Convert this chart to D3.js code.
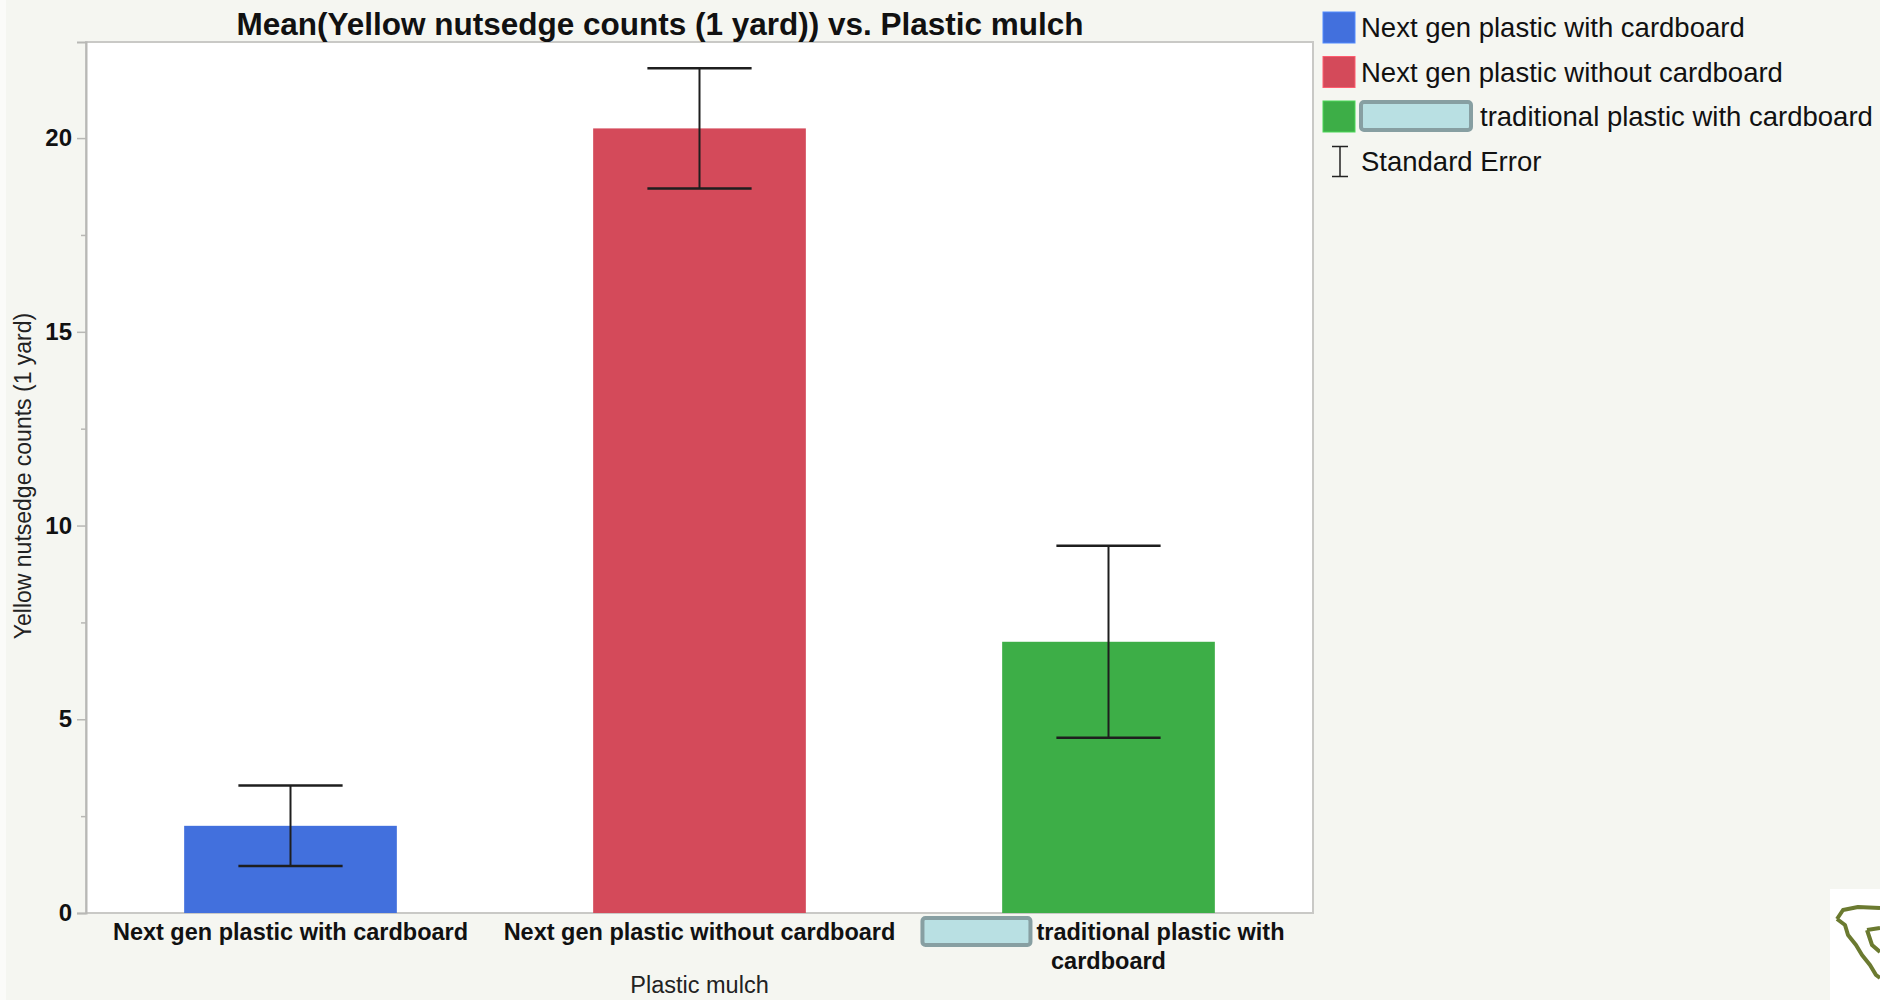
<!DOCTYPE html>
<html>
<head>
<meta charset="utf-8">
<script src="https://cdn.jsdelivr.net/npm/d3@7"></script>
<style>
  html, body { margin: 0; padding: 0; background: #f5f6f1; }
  svg { display: block; font-family: "Liberation Sans", Arial, Helvetica, sans-serif; }
</style>
</head>
<body>
<svg id="chart" width="1880" height="1000"></svg>
<script>
// ---- data ----
const categories = ["Next gen plastic with cardboard", "Next gen plastic without cardboard", "traditional plastic with cardboard"];
const categoryLines = [["Next gen plastic with cardboard"], ["Next gen plastic without cardboard"], ["traditional plastic with", "cardboard"]];
const redacted = [false, false, true];
const means = [2.25, 20.25, 7.0];
const stdErrors = [1.04, 1.55, 2.48];
const barColors = ["#4270dd", "#d44a5a", "#3dae47"];
const yMajorTicks = [0, 5, 10, 15, 20];
const yMinorTicks = [2.5, 7.5, 12.5, 17.5];
const yMax = 22.48;
const titleText = "Mean(Yellow nutsedge counts (1 yard)) vs. Plastic mulch";
const yLabel = "Yellow nutsedge counts (1 yard)";
const xLabel = "Plastic mulch";
const seLabel = "Standard Error";

// ---- layout ----
const W = 1880, H = 1000;
const plot = { left: 86, right: 1313, top: 42, bottom: 913 };
const svg = d3.select("#chart");

svg.append("rect").attr("width", W).attr("height", H).attr("fill", "#f5f6f1");
svg.append("rect").attr("x", 0).attr("y", 0).attr("width", 6).attr("height", H).attr("fill", "#fbfbf9");

const x = d3.scaleBand().domain(categories).range([plot.left, plot.right]).paddingInner(0.48).paddingOuter(0.24);
const y = d3.scaleLinear().domain([0, yMax]).range([plot.bottom, plot.top]);

// plot background
svg.append("rect").attr("x", plot.left).attr("y", plot.top)
  .attr("width", plot.right - plot.left).attr("height", plot.bottom - plot.top)
  .attr("fill", "#ffffff").attr("stroke", "#c9c9c6").attr("stroke-width", 2);

// bars
svg.append("g").selectAll("rect").data(categories).join("rect")
  .attr("x", d => x(d)).attr("width", x.bandwidth())
  .attr("y", (d, i) => y(means[i])).attr("height", (d, i) => y(0) - y(means[i]))
  .attr("fill", (d, i) => barColors[i]);

// error bars
const capW = x.bandwidth() * 0.49;
const eg = svg.append("g").attr("stroke", "#1e1e1e");
categories.forEach((c, i) => {
  const cx = x(c) + x.bandwidth() / 2;
  const hi = y(means[i] + stdErrors[i]), lo = y(means[i] - stdErrors[i]);
  eg.append("line").attr("x1", cx).attr("x2", cx).attr("y1", hi).attr("y2", lo).attr("stroke-width", 2);
  eg.append("line").attr("x1", cx - capW / 2).attr("x2", cx + capW / 2).attr("y1", hi).attr("y2", hi).attr("stroke-width", 2.5);
  eg.append("line").attr("x1", cx - capW / 2).attr("x2", cx + capW / 2).attr("y1", lo).attr("y2", lo).attr("stroke-width", 2.5);
});

// y axis
const yAxis = svg.append("g").attr("transform", `translate(${plot.left},0)`)
  .call(d3.axisLeft(y).tickValues(yMajorTicks).tickSize(9).tickPadding(5));
yAxis.select(".domain").attr("stroke", "#b8b8b5").attr("stroke-width", 2);
yAxis.selectAll(".tick line").attr("stroke", "#b8b8b5").attr("stroke-width", 1.5);
yAxis.selectAll(".tick text").attr("font-size", 24).attr("font-weight", "bold").attr("fill", "#111")
  .attr("font-family", "Liberation Sans, Arial, sans-serif");
const yMinor = svg.append("g").attr("transform", `translate(${plot.left},0)`)
  .call(d3.axisLeft(y).tickValues(yMinorTicks).tickSize(5).tickFormat(""));
yMinor.select(".domain").remove();
yMinor.selectAll(".tick line").attr("stroke", "#b8b8b5").attr("stroke-width", 1.5);

// x tick labels
const xl = svg.append("g");
categories.forEach((c, i) => {
  const cx = x(c) + x.bandwidth() / 2;
  const lines = categoryLines[i];
  lines.forEach((ln, j) => {
    const t = xl.append("text").text(ln)
      .attr("font-size", 23.5).attr("font-weight", "bold").attr("fill", "#111")
      .attr("y", 940 + j * 29);
    if (redacted[i] && j === 0) {
      const tw = t.node().getComputedTextLength();
      const boxW = 108, gap = 6;
      const total = boxW + gap + tw;
      const startX = cx - total / 2 - 5;
      xl.append("rect").attr("x", startX).attr("y", 918).attr("width", boxW).attr("height", 27)
        .attr("rx", 3).attr("fill", "#b9e0e3").attr("stroke", "#879fa2").attr("stroke-width", 4);
      t.attr("x", startX + boxW + gap).attr("text-anchor", "start");
    } else {
      t.attr("x", cx).attr("text-anchor", "middle");
    }
  });
});

// axis titles
svg.append("text").text(xLabel).attr("x", (plot.left + plot.right) / 2).attr("y", 993)
  .attr("text-anchor", "middle").attr("font-size", 23.5).attr("fill", "#222");
svg.append("text").text(yLabel)
  .attr("transform", `translate(31,476) rotate(-90)`)
  .attr("text-anchor", "middle").attr("font-size", 23).attr("fill", "#222");

// title
svg.append("text").text(titleText).attr("x", 660).attr("y", 35)
  .attr("text-anchor", "middle").attr("font-size", 31.5).attr("font-weight", "bold").attr("fill", "#111");

// legend
const lg = svg.append("g");
const lx = 1323, ly0 = 12, lstep = 44.5, sw = 32, sh = 31;
categories.forEach((c, i) => {
  const yy = ly0 + i * lstep;
  lg.append("rect").attr("x", lx).attr("y", yy).attr("width", sw).attr("height", sh)
    .attr("fill", barColors[i]).attr("stroke", d3.color(barColors[i]).brighter(0.6)).attr("stroke-width", 1);
  let tx = lx + sw + 6;
  if (redacted[i]) {
    lg.append("rect").attr("x", tx).attr("y", yy + 1).attr("width", 110).attr("height", 28)
      .attr("rx", 3).attr("fill", "#b9e0e3").attr("stroke", "#879fa2").attr("stroke-width", 4);
    tx += 119;
  }
  lg.append("text").text(c).attr("x", tx).attr("y", yy + sh / 2 + 9.5)
    .attr("font-size", 27.5).attr("fill", "#111");
});
// SE legend item
const seY = ly0 + 3 * lstep;
const seX = lx + 17;
lg.append("line").attr("x1", seX).attr("x2", seX).attr("y1", seY + 1).attr("y2", seY + 31).attr("stroke", "#222").attr("stroke-width", 1.5);
lg.append("line").attr("x1", seX - 8).attr("x2", seX + 8).attr("y1", seY + 1).attr("y2", seY + 1).attr("stroke", "#222").attr("stroke-width", 1.5);
lg.append("line").attr("x1", seX - 8).attr("x2", seX + 8).attr("y1", seY + 31).attr("y2", seY + 31).attr("stroke", "#222").attr("stroke-width", 1.5);
lg.append("text").text(seLabel).attr("x", lx + sw + 6).attr("y", seY + sh / 2 + 9.5)
  .attr("font-size", 27.5).attr("fill", "#111");

// corner logo (decoration)
svg.append("rect").attr("x", 1830).attr("y", 889).attr("width", 50).attr("height", 111).attr("fill", "#ffffff");
svg.append("path")
  .attr("d", "M1837,919 L1843,910 L1858,907 L1880,908 M1837,919 L1845,925 L1848,935 L1856,945 L1862,955 L1870,965 L1876,975 L1880,978 M1867,930 L1880,928 M1867,930 L1872,945 L1880,952")
  .attr("fill", "none").attr("stroke", "#6b7a30").attr("stroke-width", 4).attr("stroke-linejoin", "round");
</script>
</body>
</html>
